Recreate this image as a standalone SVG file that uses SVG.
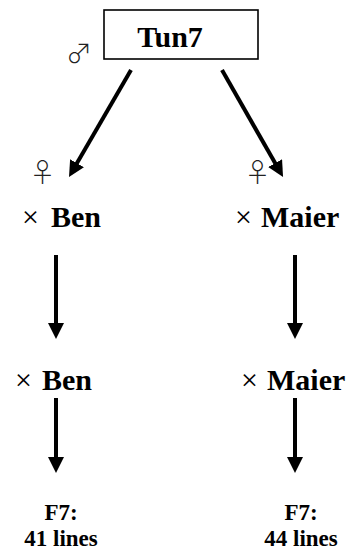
<svg xmlns="http://www.w3.org/2000/svg" width="350" height="552" viewBox="0 0 350 552">
  <style>
    text { font-family: "Liberation Serif", "Times New Roman", serif; fill: #000; }
    .name { font-size: 30px; }
    .bold { font-weight: bold; }
    .cross { font-weight: normal; }
    .sex { font-family: "Noto Sans CJK JP", "DejaVu Sans", sans-serif; font-size: 26px; font-weight: 300; fill: #222; text-anchor: middle; }
    .result { font-size: 23px; font-weight: bold; text-anchor: middle; }
    .edge { stroke: #000; stroke-width: 4; fill: none; }
  </style>
  <defs>
    <marker id="head" viewBox="0 0 16 16" refX="4" refY="8" markerWidth="16" markerHeight="16" markerUnits="userSpaceOnUse" orient="auto">
      <path d="M0,0 L16,8 L0,16 z" fill="#000"/>
    </marker>
  </defs>

  <rect width="350" height="552" fill="#fff"/>

  <!-- male parent -->
  <g id="tun7">
    <rect x="104" y="10" width="154" height="49" fill="#fff" stroke="#000" stroke-width="1.6"/>
    <text class="name bold" x="170" y="47" text-anchor="middle">Tun7</text>
    <text class="sex" x="79" y="63">♂</text>
  </g>

  <!-- first crosses -->
  <g id="ben1">
    <text class="sex" x="42.5" y="182">♀</text>
    <text class="name" x="22" y="227"><tspan class="cross">×</tspan><tspan class="bold" x="51">Ben</tspan></text>
  </g>
  <g id="maier1">
    <text class="sex" x="257.5" y="182">♀</text>
    <text class="name" x="235" y="227"><tspan class="cross">×</tspan><tspan class="bold" x="261">Maier</tspan></text>
  </g>

  <!-- second crosses -->
  <g id="ben2">
    <text class="name" x="15" y="390"><tspan class="cross">×</tspan><tspan class="bold" x="42">Ben</tspan></text>
  </g>
  <g id="maier2">
    <text class="name" x="241" y="390"><tspan class="cross">×</tspan><tspan class="bold" x="267">Maier</tspan></text>
  </g>

  <!-- resulting lines -->
  <g id="f7-ben">
    <text class="result" x="61" y="520">F7:</text>
    <text class="result" x="61" y="546">41 lines</text>
  </g>
  <g id="f7-maier">
    <text class="result" x="301" y="520">F7:</text>
    <text class="result" x="301" y="546">44 lines</text>
  </g>

  <!-- connectors -->
  <g id="connectors" class="edge">
    <line x1="131" y1="70" x2="75" y2="166.6" marker-end="url(#head)"/>
    <line x1="222" y1="70" x2="277.1" y2="166.6" marker-end="url(#head)"/>
    <line x1="56" y1="255" x2="56" y2="327" marker-end="url(#head)"/>
    <line x1="295" y1="255" x2="295" y2="327" marker-end="url(#head)"/>
    <line x1="56" y1="398" x2="56" y2="461" marker-end="url(#head)"/>
    <line x1="295" y1="398" x2="295" y2="461" marker-end="url(#head)"/>
  </g>
</svg>
